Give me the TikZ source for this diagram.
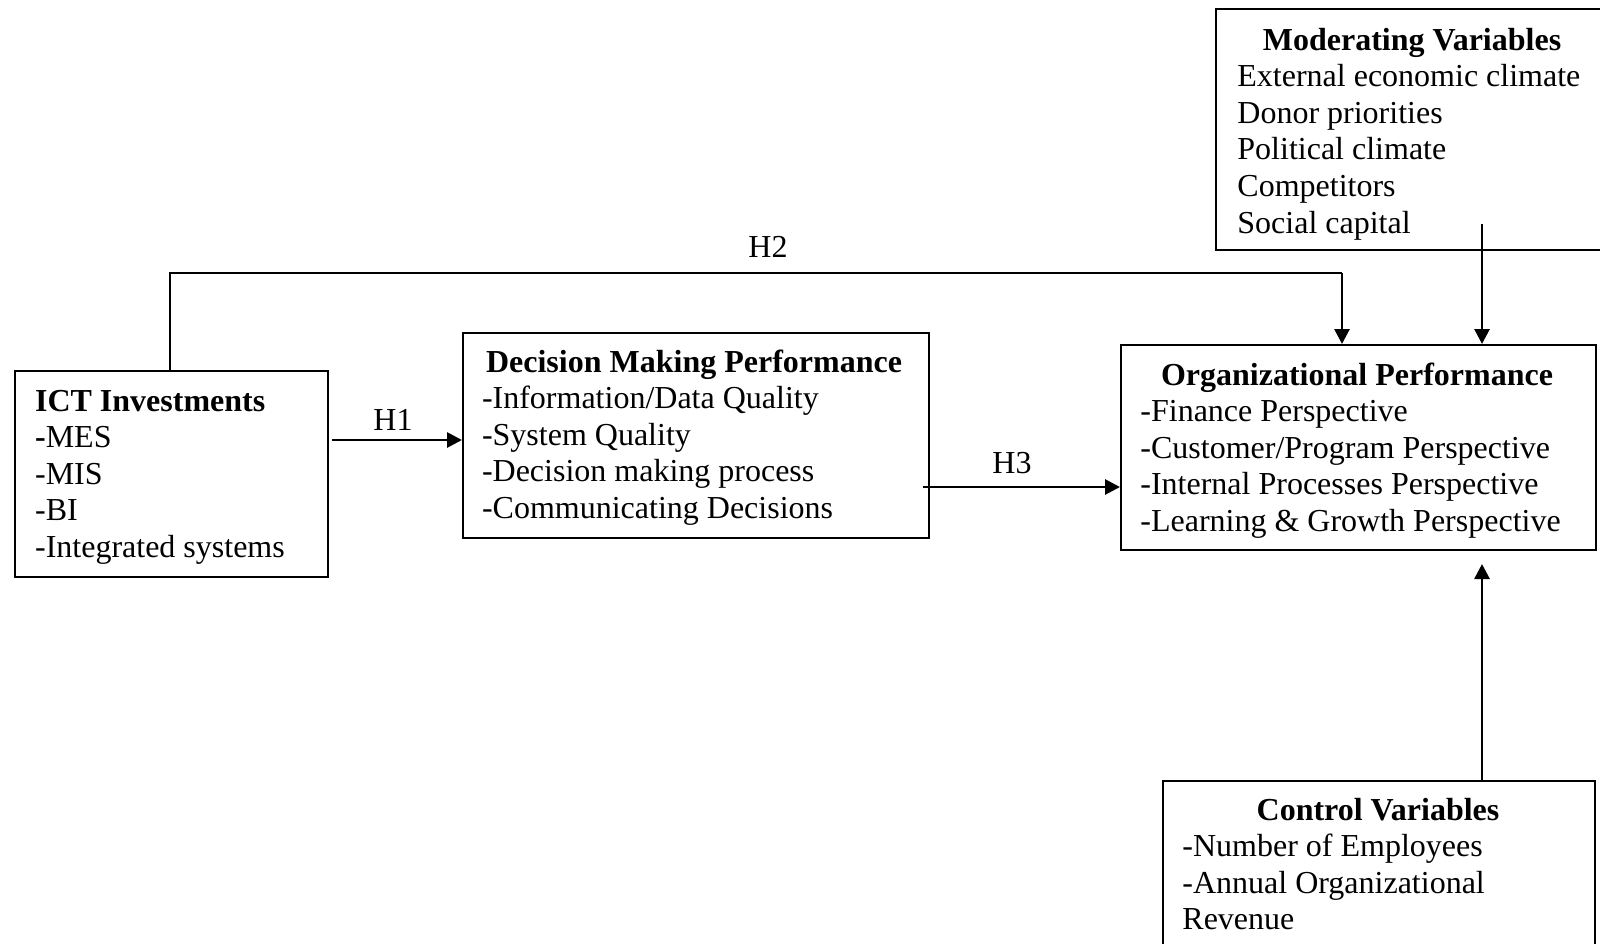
\documentclass[tikz,border=0pt]{standalone}
\usepackage{fontspec}
\setmainfont{Liberation Serif}
\usetikzlibrary{arrows.meta}
\begin{document}
\begin{tikzpicture}[x=0.5pt,y=-0.5pt,
  box/.style={draw=black,line width=0.9pt,inner sep=0pt,anchor=north west},
  txt/.style={inner sep=0pt,font=\fontsize{16pt}{18.3pt}\selectfont},
  ttl/.style={txt,font=\fontsize{16pt}{18.3pt}\selectfont\bfseries},
  arr/.style={line width=1.4pt,-{Triangle[length=7.5pt,width=7.5pt]}},
  thinline/.style={line width=0.6pt}]
\useasboundingbox (0,0) rectangle (1600,943);
% boxes
\node[box,minimum width=156.5pt,minimum height=103pt] (ict) at (14,370) {};
\node[box,minimum width=233pt,minimum height=102.5pt] (dec) at (462,332) {};
\node[box,minimum width=237.5pt,minimum height=102.5pt] (org) at (1120,344) {};
\node[box,minimum width=197.5pt,minimum height=120.5pt] (mod) at (1215,8) {};
\node[box,minimum width=216pt,minimum height=90pt] (ctrl) at (1162,780) {};
% ICT text
\node[ttl,anchor=base west] (ict-t) at (34.7,411) {ICT Investments};
\foreach \t [count=\i] in {{\textbf{-}MES},{-MIS},{-BI},{-Integrated systems}}
  \node[txt,anchor=base west] (ict-\i) at (34.7,{411+\i*36.6}) {\t};
% Decision text
\node[ttl,anchor=base] (dec-t) at (694,372) {Decision Making Performance};
\foreach \t [count=\i] in {{-Information/Data Quality},{-System Quality},{-Decision making process},{-Communicating Decisions}}
  \node[txt,anchor=base west] (dec-\i) at (481.6,{372+\i*36.6}) {\t};
% Org text
\node[ttl,anchor=base] (org-t) at (1357,385) {Organizational Performance};
\foreach \t [count=\i] in {{-Finance Perspective},{-Customer/Program Perspective},{-Internal Processes Perspective},{-Learning \& Growth Perspective}}
  \node[txt,anchor=base west] (org-\i) at (1140,{385+\i*36.6}) {\t};
% Moderating text
\node[ttl,anchor=base] (mod-t) at (1412,50) {Moderating Variables};
\foreach \t [count=\i] in {{External economic climate},{Donor priorities},{Political climate},{Competitors},{Social capital}}
  \node[txt,anchor=base west] (mod-\i) at (1237,{50+\i*36.6}) {\t};
% Control text
\node[ttl,anchor=base] (ctrl-t) at (1378,820) {Control Variables};
\foreach \t [count=\i] in {{-Number of Employees},{-Annual Organizational},{Revenue}}
  \node[txt,anchor=base west] (ctrl-\i) at (1182,{820+\i*36.6}) {\t};
% labels
\node[txt,anchor=base] (lh1) at (393,430) {H1};
\node[txt,anchor=base] (lh2) at (768,257) {H2};
\node[txt,anchor=base] (lh3) at (1012,473) {H3};
% connectors
\coordinate (h1s) at (332,440);
\draw[arr] (h1s) -- (dec.west |- h1s);
\coordinate (h3s) at (923,487);
\draw[arr] (h3s) -- (org.west |- h3s);
\coordinate (h2a) at (170,273);
\coordinate (h2b) at (1342,273);
\draw[thinline] (ict.north -| h2a) -- (h2a) -- (h2b);
\draw[arr] (h2b) -- (org.north -| h2b);
\coordinate (m1) at (1482,224);
\draw[arr] (m1) -- (org.north -| m1);
\coordinate (c1) at (1482,564);
\draw[arr] (ctrl.north -| c1) -- (c1);
\end{tikzpicture}
\end{document}
